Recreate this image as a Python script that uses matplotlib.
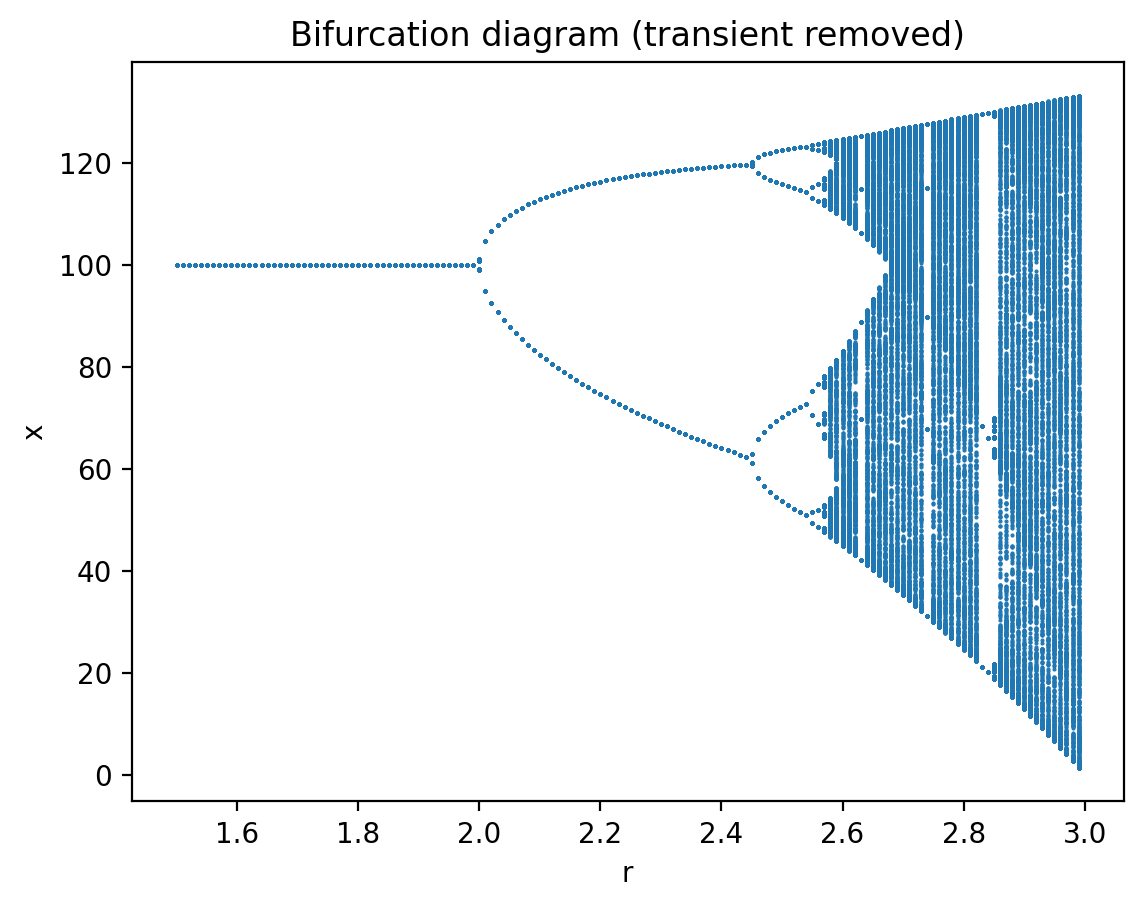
import matplotlib
matplotlib.use('Agg')
import matplotlib.pyplot as plt
import numpy as np

# model: x_{n+1} = x_n + r * x_n * (1 - x_n / K)
K = 100.0
x0 = 10.0
r_values = np.arange(1.5, 3.0, 0.01)
n_transient = 1000
n_keep = 1000

rs = []
xs = []
for r in r_values:
    x = x0
    for i in range(n_transient):
        x = x + r * x * (1 - x / K)
    for i in range(n_keep):
        x = x + r * x * (1 - x / K)
        rs.append(r)
        xs.append(x)

fig = plt.figure(dpi=200)
plt.plot(rs, xs, '.', markersize=1, color='#1f77b4')
plt.title('Bifurcation diagram (transient removed)')
plt.xlabel('r')
plt.ylabel('x')
plt.savefig('out.png', dpi=200, bbox_inches='tight')
